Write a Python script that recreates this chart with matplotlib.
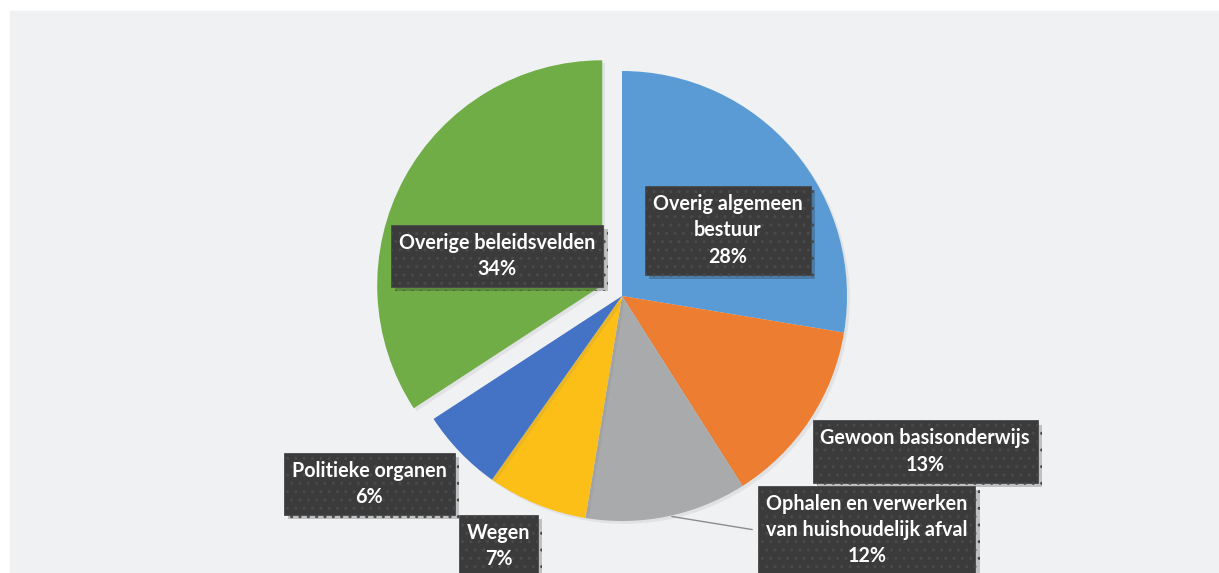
import matplotlib
matplotlib.use("Agg")
import matplotlib.pyplot as plt
import matplotlib.patheffects as pe
from matplotlib.patches import Rectangle

# data
categories = ["Overig algemeen\nbestuur", "Gewoon basisonderwijs",
              "Ophalen en verwerken\nvan huishoudelijk afval",
              "Wegen", "Politieke organen", "Overige beleidsvelden"]
shares = [27.6, 13.4, 11.6, 7.2, 6.0, 34.2]
pct_labels = ["28%", "13%", "12%", "7%", "6%", "34%"]
colors = ["#5B9BD5", "#ED7D31", "#A9AAAC", "#FBBF18", "#4472C4", "#70AD47"]
explode = [0, 0, 0, 0, 0, 0.1]

# label box centres (axes fraction) - layout only
label_pos = [(0.597, 0.598), (0.759, 0.212), (0.711, 0.075),
             (0.409, 0.047), (0.303, 0.155), (0.408, 0.553)]

W, H = 1219, 573
fig = plt.figure(figsize=(W / 100, H / 100), dpi=100)
fig.patch.set_facecolor("white")

ax = fig.add_axes([0, 0, 1, 1])
ax.patch.set_alpha(0)
ax.add_patch(Rectangle((10 / W, -0.05), 1.1, 1.05 - 11 / H,
                       transform=fig.transFigure, color="#F0F1F3",
                       zorder=-10, clip_on=False))

r_px = 225
cx, cy = 622, H - 296

wedges, _ = ax.pie(shares, colors=colors, explode=explode, startangle=90,
                   counterclock=False, radius=1,
                   wedgeprops=dict(linewidth=0, edgecolor="none"))
for w in wedges:
    w.set_path_effects([pe.SimplePatchShadow(offset=(2, -2), alpha=0.12,
                                             shadow_rgbFace="#777777"),
                        pe.Normal()])

ax.set_xlim(-cx / r_px, (W - cx) / r_px)
ax.set_ylim(-cy / r_px, (H - cy) / r_px)
ax.set_aspect("auto")
ax.axis("off")

# leader line for the waste label
ax.annotate("", xy=(0.209, -0.978), xycoords="data",
            xytext=(0.6194, 0.075), textcoords="axes fraction",
            arrowprops=dict(arrowstyle="-", color="#8C8C8C", lw=1.0))

for name, pct, (x, y) in zip(categories, pct_labels, label_pos):
    t = ax.text(x, y, name + "\n" + pct, transform=ax.transAxes,
                ha="center", va="center", color="white", fontsize=14.2,
                fontweight="bold", family="Lato", linespacing=1.4,
                bbox=dict(boxstyle="square,pad=0.4", facecolor="#3B3B3B",
                          edgecolor="#4A4A4A", hatch="..", linewidth=0.6),
                zorder=5)
    t.get_bbox_patch().set_path_effects([
        pe.SimplePatchShadow(offset=(3, -3), alpha=0.22), pe.Normal()])

fig.savefig("out.png", dpi=100)
